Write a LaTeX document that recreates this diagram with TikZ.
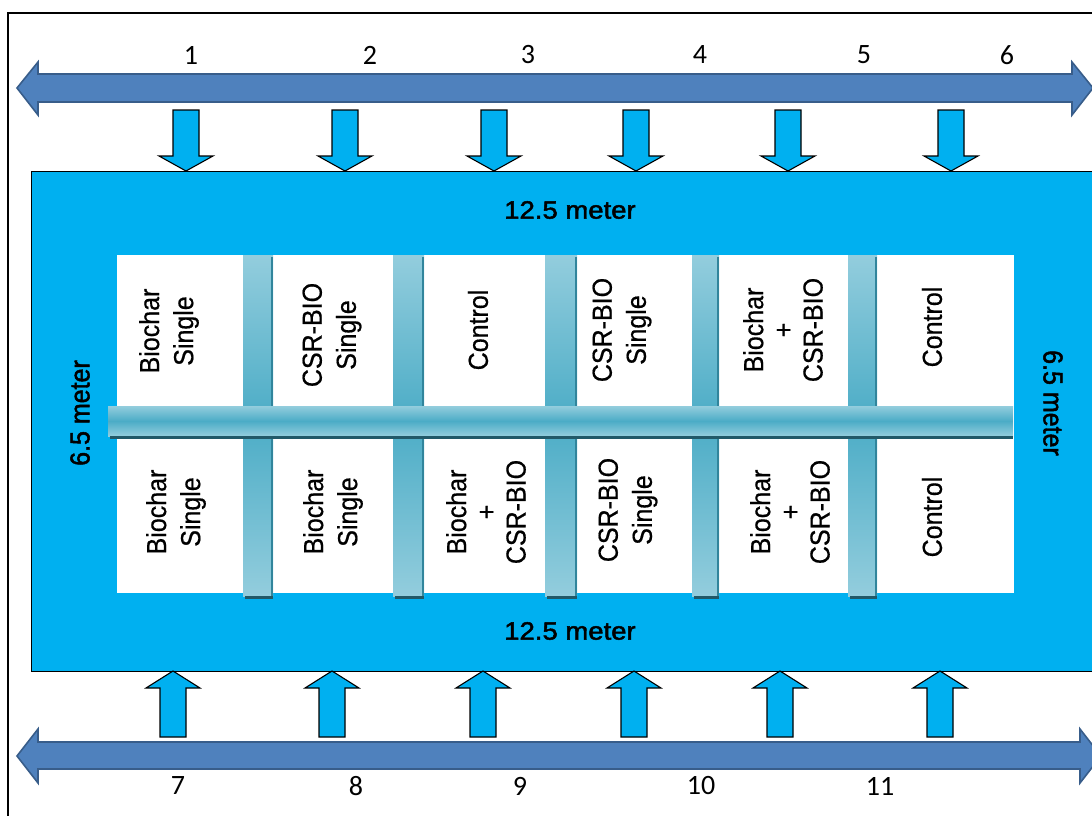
\documentclass[tikz,border=0pt]{standalone}
\usepackage{fontspec}
\setmainfont{Liberation Sans}
\newfontfamily\numfont{Carlito}
\newfontfamily\medfont[FakeBold=1.8]{Liberation Sans}
\newfontfamily\plotfont[FakeBold=0.6]{Liberation Sans}

\definecolor{fieldblue}{HTML}{00B0F0}
\definecolor{lanefill}{HTML}{4F81BD}
\definecolor{laneline}{HTML}{385D8A}
\definecolor{pipelight}{HTML}{93CDDD}
\definecolor{pipemid}{HTML}{4BACC6}
\definecolor{pipeshadow}{HTML}{31859C}
\definecolor{pipedark}{HTML}{215968}

\tikzset{
  lane/.style={fill=lanefill, draw=laneline, line width=1.6pt, line join=miter},
  inflow/.style={fill=fieldblue, draw=black, line width=1.1pt, line join=miter},
  plotlabel/.style={font=\plotfont\fontsize{25}{31}\selectfont, align=center, inner sep=0pt,
                    xscale=1.1, rotate=90},
  plotlabelthree/.style={plotlabel, font=\plotfont\fontsize{25}{27}\selectfont},
  sizelabel/.style={font=\medfont\fontsize{25}{30}\selectfont, inner sep=0pt, xscale=1.1},
  numlabel/.style={font=\numfont\fontsize{28}{32}\selectfont, inner sep=0pt},
}

\begin{document}
\begin{tikzpicture}[x=1pt, y=-1pt]
  \useasboundingbox (0,0) rectangle (1092,816);
  \clip (0,0) rectangle (1092,816);
  \fill[white] (0,0) rectangle (1092,816);

  % outer frame
  \draw[line width=2.5pt] (8,13) rectangle (1120,840);

  % supply lanes with flow direction (top and bottom)
  \draw[lane] (17,88) -- (38,62) -- (38,74) -- (1072,74) -- (1072,62) -- (1093,88)
              -- (1072,115) -- (1072,102) -- (38,102) -- (38,115) -- cycle;
  \draw[lane] (17,756) -- (38,729) -- (38,742) -- (1080,742) -- (1080,729) -- (1101,756)
              -- (1080,783) -- (1080,769) -- (38,769) -- (38,783) -- cycle;

  % field area
  \draw[fill=fieldblue, line width=0.8pt] (31,171) rectangle (1120,671);

  % inflow arrows from the top lane
  \foreach \c in {186,345,494,636,788,951}{
    \draw[inflow] ({\c-13},110) -- ({\c+13},110) -- ({\c+13},156) -- ({\c+27},156)
                  -- (\c,171) -- ({\c-27},156) -- ({\c-13},156) -- cycle;
  }
  % inflow arrows from the bottom lane
  \foreach \c in {173,332,483,634,780,940}{
    \draw[inflow] ({\c-13},737) -- ({\c+13},737) -- ({\c+13},688) -- ({\c+27},688)
                  -- (\c,671) -- ({\c-27},688) -- ({\c-13},688) -- cycle;
  }

  % plots
  \fill[white] (117,255) rectangle (1014,593);

  % vertical irrigation pipes between plots
  \foreach \a/\b in {243/273,393/424,545/577,692/719,848/877}{
    \shade[top color=pipelight, bottom color=pipemid] (\a,255) rectangle (\b,421);
    \shade[top color=pipemid, bottom color=pipelight] (\a,421) rectangle (\b,596);
    \fill[pipeshadow] ({\b-2.5},257) rectangle (\b,598);
    \fill[pipedark] ({\a+2},596) rectangle (\b,599);
  }
  % main horizontal pipe
  \shade[top color=pipelight, bottom color=pipelight, middle color=pipemid]
    (108,406) rectangle (1013,436);
  \fill[pipedark] (110,436) rectangle (1013,439);

  % treatment labels, upper row
  \node[plotlabel]      (u1) at (169,331) {Biochar\\Single};
  \node[plotlabel]      (u2) at (332,335) {CSR-BIO\\Single};
  \node[plotlabel]      (u3) at (478,330) {Control};
  \node[plotlabel]      (u4) at (622,330) {CSR-BIO\\Single};
  \node[plotlabelthree] (u5) at (783,330) {Biochar\\+\\CSR-BIO};
  \node[plotlabel]      (u6) at (932,327) {Control};

  % treatment labels, lower row
  \node[plotlabel]      (l1) at (176,512) {Biochar\\Single};
  \node[plotlabel]      (l2) at (333,512) {Biochar\\Single};
  \node[plotlabelthree] (l3) at (486,512) {Biochar\\+\\CSR-BIO};
  \node[plotlabel]      (l4) at (628,510) {CSR-BIO\\Single};
  \node[plotlabelthree] (l5) at (790,512) {Biochar\\+\\CSR-BIO};
  \node[plotlabel]      (l6) at (932,517) {Control};

  % dimensions
  \node[sizelabel] (wtop) at (570,210) {12.5 meter};
  \node[sizelabel] (wbot) at (570,631) {12.5 meter};
  \node[sizelabel, rotate=90]  (hleft)  at (80,413)   {6.5 meter};
  \node[sizelabel, rotate=-90] (hright) at (1053,403) {6.5 meter};

  % inlet numbers
  \foreach \n/\x in {1/191,2/370,3/528,4/700,5/864,6/1007}{
    \node[numlabel] (n\n) at (\x,55) {\n};
  }
  \foreach \n/\x in {7/178,8/356,9/520,10/701,11/880}{
    \node[numlabel] (n\n) at (\x,786) {\n};
  }
\end{tikzpicture}
\end{document}
